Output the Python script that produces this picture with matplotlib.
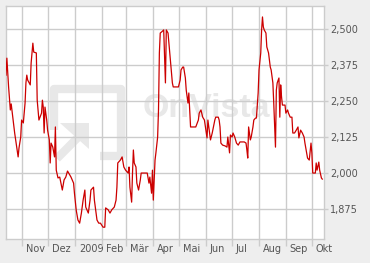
import matplotlib
matplotlib.use("Agg")
import matplotlib.pyplot as plt
import matplotlib.transforms as mtransforms
import pandas as pd

# price series (days counted from 2008-10-13)
start = "2008-10-13"
days = [0, 1, 3, 5, 6, 8, 10, 12, 14, 15,
        17, 18, 20, 22, 23, 24, 25, 28, 29, 31,
        32, 35, 36, 38, 41, 42, 43, 44, 45, 47,
        48, 50, 51, 52, 54, 56, 57, 58, 60, 62,
        65, 67, 69, 71, 75, 78, 79, 81, 83, 85,
        87, 89, 91, 92, 95, 97, 98, 101, 102, 104,
        105, 107, 109, 112, 114, 115, 118, 120, 122, 125,
        127, 128, 129, 132, 134, 136, 138, 141, 142, 143,
        145, 146, 147, 148, 150, 151, 153, 155, 156, 161,
        163, 165, 166, 168, 169, 170, 172, 173, 175, 176,
        177, 178, 180, 182, 184, 185, 187, 188, 190, 192,
        193, 196, 199, 201, 202, 204, 205, 207, 208, 210,
        211, 213, 215, 219, 222, 223, 225, 227, 229, 232,
        233, 235, 236, 238, 241, 242, 245, 246, 247, 248,
        250, 253, 255, 256, 258, 259, 261, 262, 264, 266,
        268, 270, 272, 275, 277, 278, 279, 280, 282, 283,
        285, 286, 288, 289, 291, 292, 294, 295, 296, 297,
        298, 300, 301, 303, 305, 306, 308, 309, 311, 312,
        313, 315, 316, 317, 318, 319, 322, 323, 325, 326,
        328, 330, 331, 333, 335, 337, 338, 340, 342, 344,
        345, 347, 348, 350, 352, 353, 354, 356, 357, 358,
        359, 361, 362, 364, 365]
prices = [2.341, 2.400, 2.300, 2.220, 2.241, 2.192, 2.140, 2.098, 2.057, 2.088,
          2.126, 2.185, 2.175, 2.244, 2.314, 2.341, 2.324, 2.307, 2.383, 2.452,
          2.421, 2.418, 2.254, 2.185, 2.209, 2.254, 2.230, 2.140, 2.230, 2.185,
          2.150, 2.116, 2.036, 2.105, 2.091, 2.057, 2.161, 2.011, 1.984, 1.987,
          1.942, 1.977, 1.987, 2.008, 1.987, 1.966, 1.931, 1.873, 1.838, 1.827,
          1.862, 1.907, 1.942, 1.883, 1.862, 1.907, 1.942, 1.952, 1.907, 1.862,
          1.838, 1.827, 1.827, 1.813, 1.813, 1.880, 1.873, 1.862, 1.873, 1.883,
          1.907, 1.952, 2.036, 2.046, 2.057, 2.022, 2.011, 2.001, 2.022, 1.952,
          1.900, 2.001, 2.081, 2.036, 2.022, 1.966, 1.942, 1.977, 2.001, 2.001,
          2.001, 1.966, 1.987, 1.931, 2.011, 1.907, 2.046, 2.071, 2.126, 2.220,
          2.418, 2.487, 2.492, 2.498, 2.314, 2.498, 2.487, 2.452, 2.383, 2.314,
          2.300, 2.300, 2.300, 2.324, 2.359, 2.369, 2.369, 2.331, 2.289, 2.244,
          2.279, 2.161, 2.161, 2.161, 2.185, 2.209, 2.220, 2.195, 2.185, 2.123,
          2.185, 2.140, 2.116, 2.140, 2.185, 2.195, 2.195, 2.185, 2.161, 2.105,
          2.098, 2.095, 2.091, 2.126, 2.071, 2.133, 2.126, 2.140, 2.126, 2.105,
          2.098, 2.109, 2.109, 2.109, 2.105, 2.081, 2.053, 2.161, 2.116, 2.126,
          2.161, 2.185, 2.192, 2.192, 2.279, 2.359, 2.418, 2.498, 2.543, 2.508,
          2.498, 2.487, 2.439, 2.418, 2.369, 2.359, 2.314, 2.244, 2.091, 2.289,
          2.314, 2.331, 2.195, 2.307, 2.265, 2.237, 2.237, 2.209, 2.220, 2.209,
          2.195, 2.195, 2.140, 2.140, 2.150, 2.161, 2.123, 2.150, 2.140, 2.126,
          2.105, 2.071, 2.053, 2.046, 2.105, 2.071, 2.001, 2.001, 2.001, 2.036,
          2.011, 2.039, 2.011, 1.984, 1.980]

month_labels = ["Nov", "Dez", "2009", "Feb", "Mär", "Apr", "Mai",
                "Jun", "Jul", "Aug", "Sep", "Okt"]
y_ticks = [1.875, 2.000, 2.125, 2.250, 2.375, 2.500]

dates = pd.Timestamp(start) + pd.to_timedelta(days, unit="D")
month_starts = pd.date_range("2008-11-01", "2009-10-01", freq="MS")

grid_col = "#cccccc"
text_col = "#555555"
wm_col = "#e8e8e8"

fig = plt.figure(figsize=(3.7, 2.63), dpi=100, facecolor="#eeeeee")
ax = fig.add_axes([6 / 370, 24 / 263, 318 / 370, 233 / 263])
ax.set_facecolor("white")

# faint OnVista watermark behind the grid
ax.text(0.431, 0.524, "OnVista", transform=ax.transAxes, fontsize=24.5,
        fontweight="bold", family="Liberation Sans", color=wm_col,
        va="baseline", ha="left", zorder=0)
lw_wm = 6.0
ax.plot([0.151, 0.151, 0.362, 0.362, 0.296], [0.468, 0.644, 0.644, 0.356, 0.356],
        color=wm_col, lw=lw_wm, solid_capstyle="butt", solid_joinstyle="round",
        transform=ax.transAxes, zorder=0)
ax.plot([0.160, 0.240], [0.345, 0.455], color=wm_col, lw=lw_wm,
        solid_capstyle="butt", transform=ax.transAxes, zorder=0)
ax.fill([0.170, 0.262, 0.262], [0.500, 0.500, 0.385], color=wm_col,
        transform=ax.transAxes, zorder=0, lw=0)

ax.plot(dates, prices, color="#cc0000", lw=0.9, zorder=3)

ax.set_xlim(pd.Timestamp(start), pd.Timestamp(start) + pd.Timedelta(days=367))
ax.set_ylim(1.772, 2.581)

ax.set_xticks(month_starts)
ax.set_xticklabels(month_labels)
ax.xaxis.set_minor_locator(plt.NullLocator())
ax.yaxis.tick_right()
ax.set_yticks(y_ticks)
ax.set_yticklabels([f"{v:,.3f}".replace(".", ",") for v in y_ticks])

ax.grid(True, color=grid_col, lw=1.0, zorder=1)
ax.set_axisbelow(True)
ax.tick_params(axis="x", length=5, width=1, color=grid_col, pad=-1.5,
               labelsize=7, labelcolor=text_col)
ax.tick_params(axis="y", length=3, width=1, color=grid_col, pad=1.5,
               labelsize=7, labelcolor=text_col)

offset = mtransforms.ScaledTranslation(2.5 / 72, 0, fig.dpi_scale_trans)
for lab in ax.get_xticklabels():
    lab.set_horizontalalignment("left")
    lab.set_transform(lab.get_transform() + offset)

for s in ax.spines.values():
    s.set_color(grid_col)
    s.set_linewidth(1.0)

fig.savefig("out.png", dpi=100, facecolor=fig.get_facecolor())
